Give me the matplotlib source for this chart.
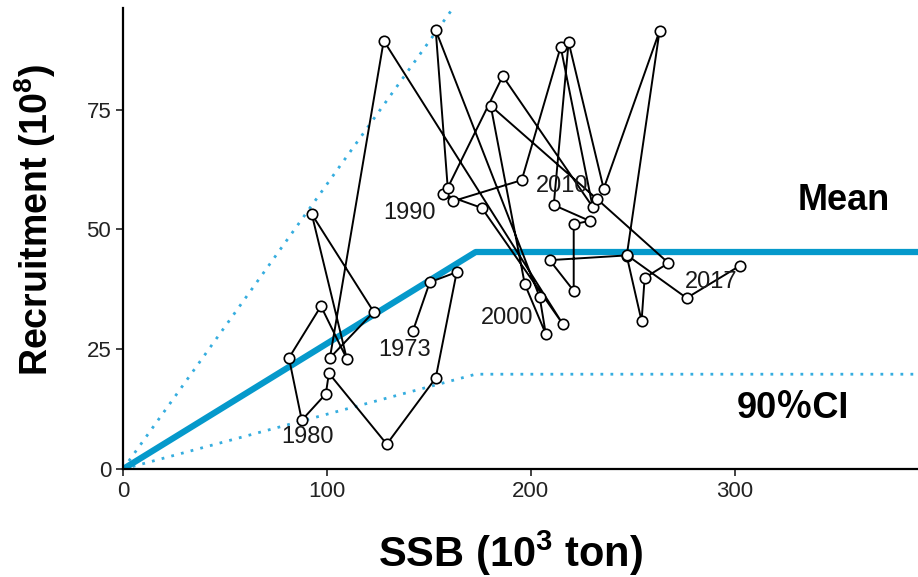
import matplotlib
matplotlib.use("Agg")
import matplotlib.pyplot as plt

plt.rcParams['font.family'] = ['Liberation Sans', 'Noto Sans CJK JP', 'DejaVu Sans']
plt.rcParams['mathtext.fontset'] = 'custom'
plt.rcParams['mathtext.rm'] = 'Liberation Sans'
plt.rcParams['mathtext.bf'] = 'Liberation Sans:bold'

# SSB (10^3 ton) and recruitment (10^8), 1973-2017
years = list(range(1973, 2018))
ssb = [142.2, 150.5, 163.7, 153.4, 129.4, 101.0, 99.5, 87.7, 81.4, 97.1,
       109.8, 92.6, 123.0, 101.5, 127.9, 215.7, 176.0, 156.9, 161.8, 195.6,
       214.7, 230.4, 186.3, 159.3, 153.4, 204.4, 207.4, 197.1, 180.4, 232.4,
       267.6, 255.9, 254.4, 247.1, 263.2, 235.8, 218.6, 211.3, 228.9, 221.1,
       221.1, 209.3, 247.4, 276.5, 302.5]
rec = [28.8, 39.0, 41.1, 19.0, 5.2, 20.0, 15.7, 10.2, 23.2, 34.0,
       23.0, 53.2, 32.8, 23.2, 89.4, 30.3, 54.5, 57.4, 55.9, 60.3,
       88.1, 54.7, 82.0, 58.7, 91.6, 35.9, 28.2, 38.6, 75.8, 56.4,
       43.0, 39.9, 30.9, 44.5, 91.4, 58.5, 89.1, 55.1, 51.8, 51.1,
       37.2, 43.6, 44.6, 35.7, 42.4]
label_years = [1973, 1980, 1990, 2000, 2010, 2017]
label_pos = [(138.2, 24.8), (90.7, 6.7), (140.7, 53.4), (188.2, 31.5),
             (215.2, 59.1), (288.7, 39.0)]

# hockey-stick fit: breakpoint SSB and plateau recruitment
ssb_break = 173
mean_plateau = 45.3
lower_plateau = 19.8
upper_plateau = 102.8
x_max = 390

fig = plt.figure(figsize=(9.18, 5.77), dpi=100)
ax = fig.add_axes([0.134, 0.187, 0.866, 0.799])

blue = '#0599CB'
dot_blue = '#35ADDF'
sx = [0, ssb_break, x_max]
ax.plot(sx, [0, upper_plateau, upper_plateau], color=dot_blue, lw=2,
        linestyle=(0, (1, 2.6)), zorder=1)
ax.plot(sx, [0, lower_plateau, lower_plateau], color=dot_blue, lw=2,
        linestyle=(0, (1, 2.6)), zorder=1)
ax.plot(sx, [0, mean_plateau, mean_plateau], color=blue, lw=4.5,
        solid_capstyle='butt', zorder=2)

ax.plot(ssb, rec, color='black', lw=1.4, zorder=3)
ax.plot(ssb, rec, 'o', ms=7.5, mfc='white', mec='black', mew=1.2, zorder=4)

for yr, (tx, ty) in zip(label_years, label_pos):
    ax.text(tx, ty, str(yr), fontsize=17, ha='center', va='center',
            color='#1a1a1a', zorder=5)

ax.text(353.4, 56.0, 'Mean', fontsize=26, fontweight='bold', ha='center',
        va='center')
ax.text(328.5, 12.7, '90％CI', fontsize=26, fontweight='bold', ha='center',
        va='center')

ax.set_xlim(0, x_max)
ax.set_ylim(0, 96.2)
ax.set_xticks([0, 100, 200, 300])
ax.set_yticks([0, 25, 50, 75])
ax.tick_params(labelsize=16, length=5, width=1.2, colors='#222222')
for s in ['top', 'right']:
    ax.spines[s].set_visible(False)
for s in ['left', 'bottom']:
    ax.spines[s].set_linewidth(1.6)

ax.set_xlabel(r'SSB (10$^{\mathbf{3}}$ ton)', fontsize=30, fontweight='bold')
ax.set_ylabel(r'Recruitment (10$^{\mathbf{8}}$)', fontsize=27, fontweight='bold')
ax.xaxis.set_label_coords(0.487, -0.13)
ax.yaxis.set_label_coords(-0.082, 0.54)

fig.savefig('out.png', dpi=100)
